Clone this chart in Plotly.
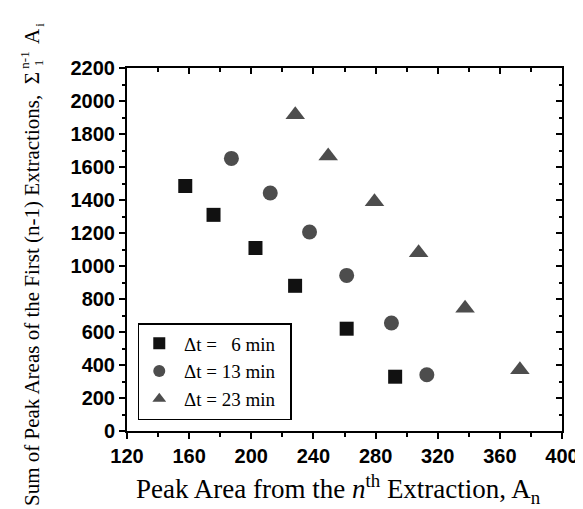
import plotly.graph_objects as go

# ---- data ----
dt6_x = [157.5, 175.7, 202.7, 228.2, 261.4, 292.6]
dt6_y = [1485, 1310, 1109, 880, 620, 329]
dt13_x = [187.2, 212.2, 237.5, 261.4, 290.2, 313.0]
dt13_y = [1652, 1442, 1206, 943, 655, 341]
dt23_x = [228.3, 249.5, 279.3, 307.7, 337.6, 372.9]
dt23_y = [1916, 1667, 1389, 1081, 744, 371]
series_names = ["\u0394t =\u00a0\u00a0\u00a06 min", "\u0394t = 13 min", "\u0394t = 23 min"]

W, H = 583, 509
L, R, T, B = 119, 20, 60, 86
PW, PH = W - L - R, H - T - B

def px(x):  # pixel -> paper
    return (x - L) / PW

def py(y):
    return (H - B - y) / PH

fig = go.Figure()
fig.add_trace(go.Scatter(x=dt6_x, y=dt6_y, mode="markers", name="\u00a0" + series_names[0] + "\u00a0\u00a0",
                         marker=dict(symbol="square", size=14, color="#111111", line=dict(width=0))))
fig.add_trace(go.Scatter(x=dt13_x, y=dt13_y, mode="markers", name="\u00a0" + series_names[1] + "\u00a0\u00a0",
                         marker=dict(symbol="circle", size=15, color="#4d4d4d", line=dict(width=0))))
fig.add_trace(go.Scatter(x=dt23_x, y=dt23_y, mode="markers", name="\u00a0" + series_names[2] + "\u00a0\u00a0",
                         marker=dict(symbol="triangle-up", size=17, color="#4d4d4d", line=dict(width=0))))
# empty trace to carry the mirrored (top/right) axes
fig.add_trace(go.Scatter(x=[], y=[], xaxis="x2", yaxis="y2", showlegend=False, hoverinfo="skip"))

tickfont = dict(family="Liberation Sans", size=20, color="black", weight="bold")
common = dict(showline=True, linecolor="black", linewidth=2, showgrid=False, zeroline=False,
              tickcolor="black", tickwidth=2, ticklen=6)

fig.update_layout(
    width=W, height=H,
    margin=dict(l=L, r=R, t=T, b=B),
    paper_bgcolor="white", plot_bgcolor="white",
    showlegend=True,
    xaxis=dict(range=[120, 400], tick0=120, dtick=40, ticks="outside", tickfont=tickfont,
               minor=dict(dtick=20, tick0=120, ticks="outside", ticklen=3.5, tickwidth=2,
                          tickcolor="black", showgrid=False), **common),
    yaxis=dict(range=[0, 2200], tick0=0, dtick=200, ticks="outside", tickfont=tickfont,
               minor=dict(dtick=100, tick0=0, ticks="outside", ticklen=3.5, tickwidth=2,
                          tickcolor="black", showgrid=False), **common),
    xaxis2=dict(range=[120, 400], tick0=120, dtick=40, overlaying="x", side="top", anchor="y",
                ticks="inside", showticklabels=False,
                minor=dict(dtick=20, tick0=120, ticks="inside", ticklen=3.5, tickwidth=2,
                           tickcolor="black", showgrid=False), **common),
    yaxis2=dict(range=[0, 2200], tick0=0, dtick=200, overlaying="y", side="right", anchor="x",
                ticks="inside", showticklabels=False,
                minor=dict(dtick=100, tick0=0, ticks="inside", ticklen=3.5, tickwidth=2,
                           tickcolor="black", showgrid=False), **common),
    legend=dict(x=px(130), y=py(412), xanchor="left", yanchor="bottom",
                bordercolor="black", borderwidth=1.5, bgcolor="white",
                font=dict(family="Liberation Serif", size=19, color="black"),
                itemsizing="constant", tracegroupgap=0),
)

serif = "Liberation Serif"
ann = []
# x-axis title
ann.append(dict(text="Peak Area from the <i>n</i><sup>th</sup> Extraction, A<sub>n</sub>",
                x=px(335), y=py(502), xref="paper", yref="paper", xanchor="center", yanchor="bottom",
                showarrow=False, font=dict(family=serif, size=27, color="black")))
# y-axis title (rotated) main part ending with Sigma
ann.append(dict(text="Sum of Peak Areas of the First (n-1) Extractions,\u00a0\u00a0\u03a3",
                x=px(22), y=py(62), xref="paper", yref="paper", xanchor="center", yanchor="top",
                textangle=-90, showarrow=False, font=dict(family=serif, size=21, color="black")))
ann.append(dict(text="n-1", x=px(13.5), y=py(52), xref="paper", yref="paper",
                xanchor="center", yanchor="middle", textangle=-90, showarrow=False,
                font=dict(family=serif, size=13, color="black")))
ann.append(dict(text="1", x=px(29.5), y=py(55), xref="paper", yref="paper",
                xanchor="center", yanchor="middle", textangle=-90, showarrow=False,
                font=dict(family=serif, size=13, color="black")))
ann.append(dict(text="A", x=px(22), y=py(28), xref="paper", yref="paper",
                xanchor="center", yanchor="middle", textangle=-90, showarrow=False,
                font=dict(family=serif, size=21, color="black")))
ann.append(dict(text="i", x=px(29.5), y=py(16.5), xref="paper", yref="paper",
                xanchor="center", yanchor="middle", textangle=-90, showarrow=False,
                font=dict(family=serif, size=13, color="black")))
fig.update_layout(annotations=ann)

fig.write_html("out.html")
